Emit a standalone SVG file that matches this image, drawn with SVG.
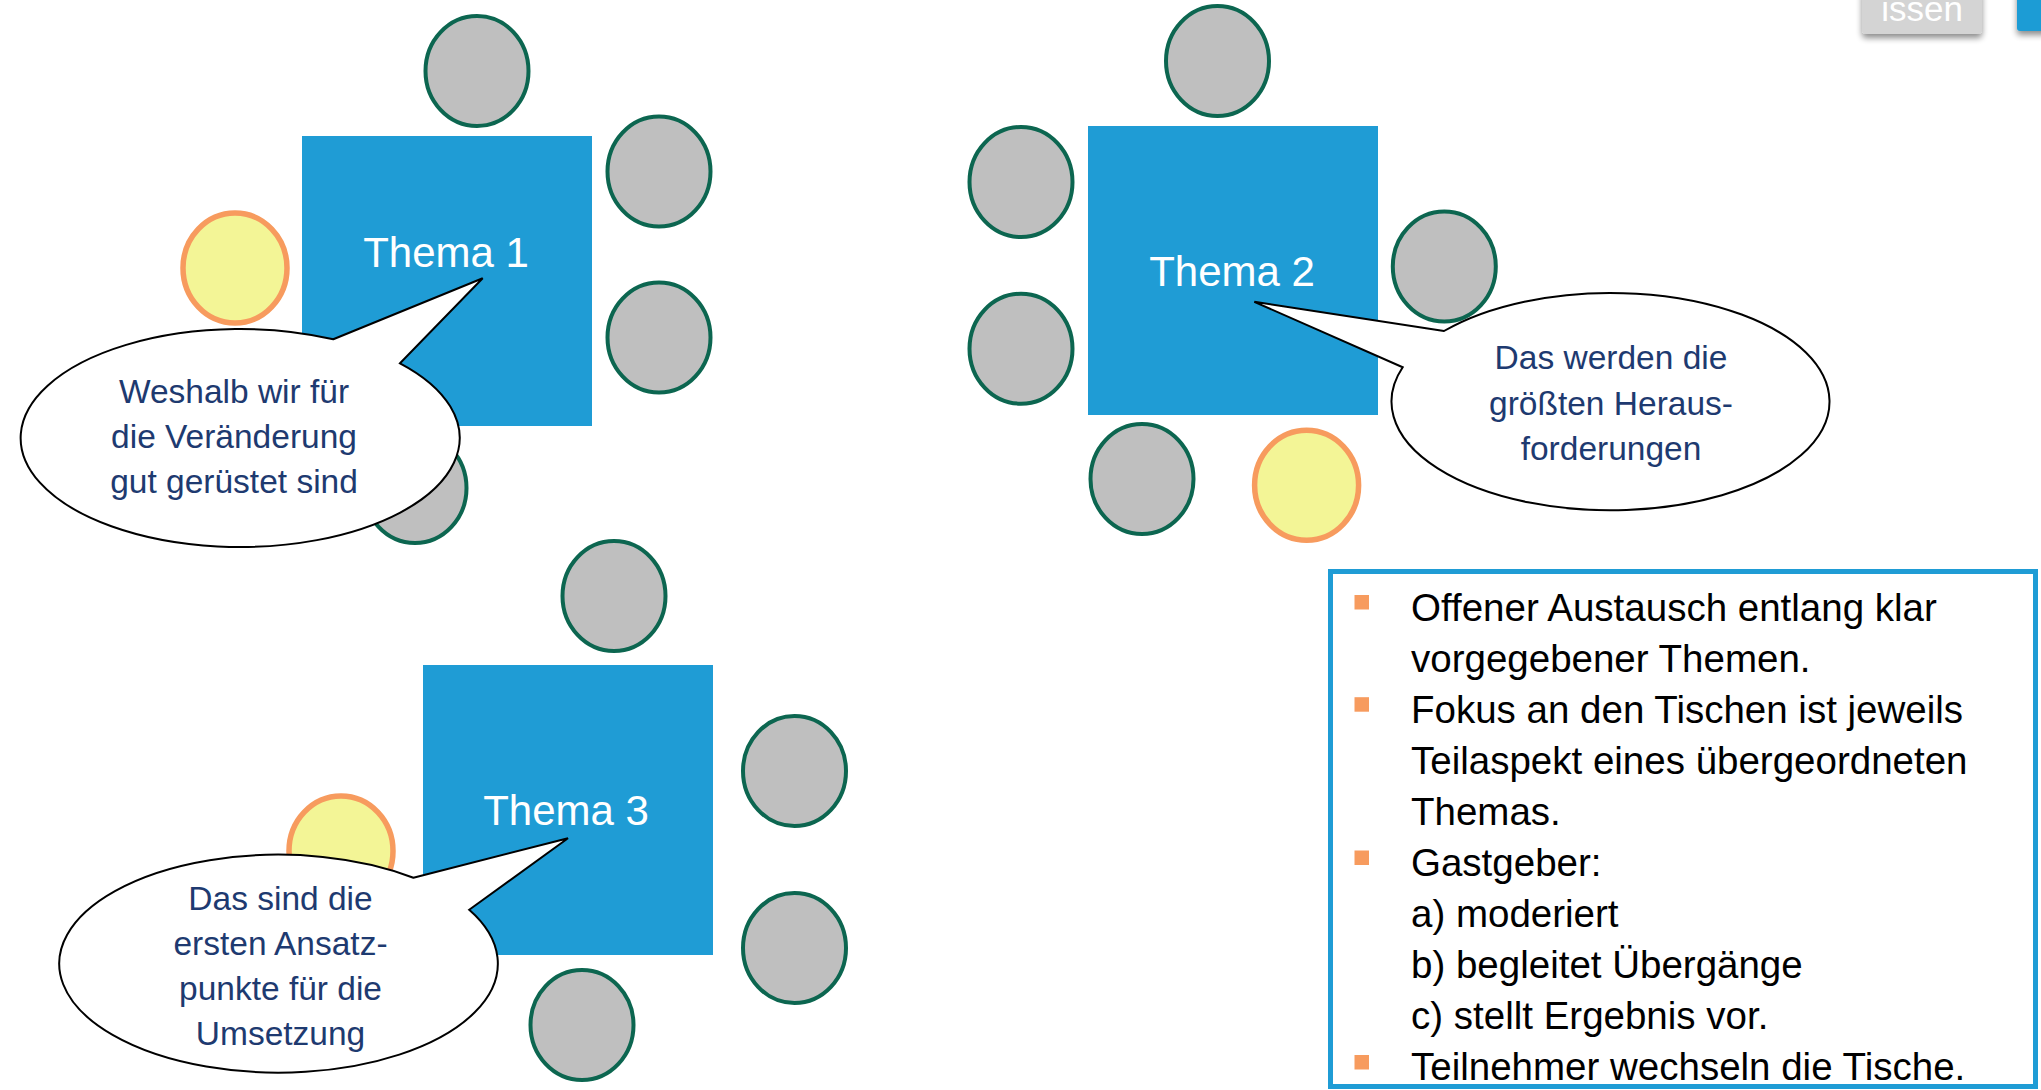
<svg xmlns="http://www.w3.org/2000/svg" width="2041" height="1090" viewBox="0 0 2041 1090">
<defs>
<style>
.table{fill:#1F9CD5;}
.chair{fill:#BFBFBF;stroke:#0C6650;stroke-width:4;}
.host{fill:#F3F596;stroke:#F79B5E;stroke-width:5.5;}
.callout{fill:#FFFFFF;stroke:#000000;stroke-width:2;stroke-linejoin:miter;}
.tlabel{font-family:"Liberation Sans",Arial,sans-serif;font-size:42px;fill:#FFFFFF;text-anchor:middle;}
.ctext{font-family:"Liberation Sans",Arial,sans-serif;font-size:33.5px;fill:#1E3A70;text-anchor:middle;}
.btext{font-family:"Liberation Sans",Arial,sans-serif;font-size:38.5px;fill:#000000;}
.bullet{fill:#F79B5E;}
</style>
<filter id="sh" x="-20%" y="-20%" width="140%" height="160%">
<feGaussianBlur in="SourceAlpha" stdDeviation="3"/>
<feOffset dx="0" dy="4" result="b"/>
<feComponentTransfer><feFuncA type="linear" slope="0.45"/></feComponentTransfer>
<feMerge><feMergeNode/><feMergeNode in="SourceGraphic"/></feMerge>
</filter>
</defs>
<rect x="0" y="0" width="2041" height="1090" fill="#FFFFFF"/>

<g id="topright-buttons">
<rect x="1862" y="-12" width="120" height="46" rx="4" fill="#D4D4D4" filter="url(#sh)"/>
<text x="1922" y="21" font-family="'Liberation Sans',Arial,sans-serif" font-size="35" fill="#FFFFFF" text-anchor="middle">issen</text>
<rect x="2017" y="-12" width="40" height="43" rx="3" fill="#1F9CD5" filter="url(#sh)"/>
</g>

<g id="table1">
<rect class="table" x="302" y="136" width="290" height="290"/>
<text class="tlabel" x="446" y="267">Thema 1</text>
</g>
<g id="table1-chairs">
<ellipse class="chair" cx="477" cy="71" rx="51.5" ry="55"/>
<ellipse class="chair" cx="659" cy="171.5" rx="51.5" ry="55"/>
<ellipse class="chair" cx="659" cy="337.5" rx="51.5" ry="55"/>
<ellipse class="host" cx="235" cy="268" rx="52" ry="55"/>
<ellipse class="chair" cx="415" cy="488" rx="51.5" ry="55"/>
</g>

<g id="table2">
<rect class="table" x="1088" y="126" width="290" height="289"/>
<text class="tlabel" x="1232" y="286">Thema 2</text>
</g>
<g id="table2-chairs">
<ellipse class="chair" cx="1217.5" cy="61" rx="51.5" ry="55"/>
<ellipse class="chair" cx="1021" cy="182" rx="51.5" ry="55"/>
<ellipse class="chair" cx="1021" cy="348.7" rx="51.5" ry="55"/>
<ellipse class="chair" cx="1444.3" cy="266.5" rx="51.5" ry="55"/>
<ellipse class="chair" cx="1142" cy="479" rx="51.5" ry="55"/>
<ellipse class="host" cx="1306.6" cy="485.2" rx="52" ry="55"/>
</g>

<g id="table3">
<rect class="table" x="423" y="665" width="290" height="290"/>
<text class="tlabel" x="566" y="825">Thema 3</text>
</g>
<g id="table3-chairs">
<ellipse class="chair" cx="614" cy="596" rx="51.5" ry="55"/>
<ellipse class="chair" cx="794.5" cy="771" rx="51.5" ry="55"/>
<ellipse class="chair" cx="794.5" cy="948" rx="51.5" ry="55"/>
<ellipse class="host" cx="341" cy="851" rx="52" ry="55"/>
<ellipse class="chair" cx="582" cy="1025" rx="51.5" ry="55"/>
</g>

<g id="callout1">
<path class="callout" d="M333.3 339.3 L482.7 278.3 L400 363.3 A219.5 109 0 1 1 333.3 339.3 Z"/>
<text class="ctext" x="234" y="403.3">Weshalb wir für</text>
<text class="ctext" x="234" y="448.3">die Veränderung</text>
<text class="ctext" x="234" y="493.3">gut gerüstet sind</text>
</g>

<g id="callout2">
<path class="callout" d="M1444 331 L1254.3 301.8 L1402.7 367.3 A219 108.7 0 1 0 1444 331 Z"/>
<text class="ctext" x="1611" y="369.3">Das werden die</text>
<text class="ctext" x="1611" y="415">größten Heraus-</text>
<text class="ctext" x="1611" y="460">forderungen</text>
</g>

<g id="callout3">
<path class="callout" d="M413.4 877.7 L568 838.2 L469.2 909.8 A219.3 109 0 1 1 413.4 877.7 Z"/>
<text class="ctext" x="280.5" y="909.8">Das sind die</text>
<text class="ctext" x="280.5" y="955">ersten Ansatz-</text>
<text class="ctext" x="280.5" y="1000">punkte für die</text>
<text class="ctext" x="280.5" y="1045">Umsetzung</text>
</g>

<g id="infobox">
<rect x="1330.5" y="571.5" width="705" height="515" fill="#FFFFFF" stroke="#1F9CD5" stroke-width="5"/>
<rect class="bullet" x="1354.5" y="595" width="14.5" height="14.5"/>
<rect class="bullet" x="1354.5" y="697.2" width="14.5" height="14.5"/>
<rect class="bullet" x="1354.5" y="850.5" width="14.5" height="14.5"/>
<rect class="bullet" x="1354.5" y="1055" width="14.5" height="14.5"/>
<text class="btext" x="1411" y="620.5">Offener Austausch entlang klar</text>
<text class="btext" x="1411" y="671.6">vorgegebener Themen.</text>
<text class="btext" x="1411" y="722.7">Fokus an den Tischen ist jeweils</text>
<text class="btext" x="1411" y="773.8">Teilaspekt eines übergeordneten</text>
<text class="btext" x="1411" y="824.9">Themas.</text>
<text class="btext" x="1411" y="876">Gastgeber:</text>
<text class="btext" x="1411" y="927.1">a) moderiert</text>
<text class="btext" x="1411" y="978.2">b) begleitet Übergänge</text>
<text class="btext" x="1411" y="1029.3">c) stellt Ergebnis vor.</text>
<text class="btext" x="1411" y="1080.4">Teilnehmer wechseln die Tische.</text>
</g>
</svg>
